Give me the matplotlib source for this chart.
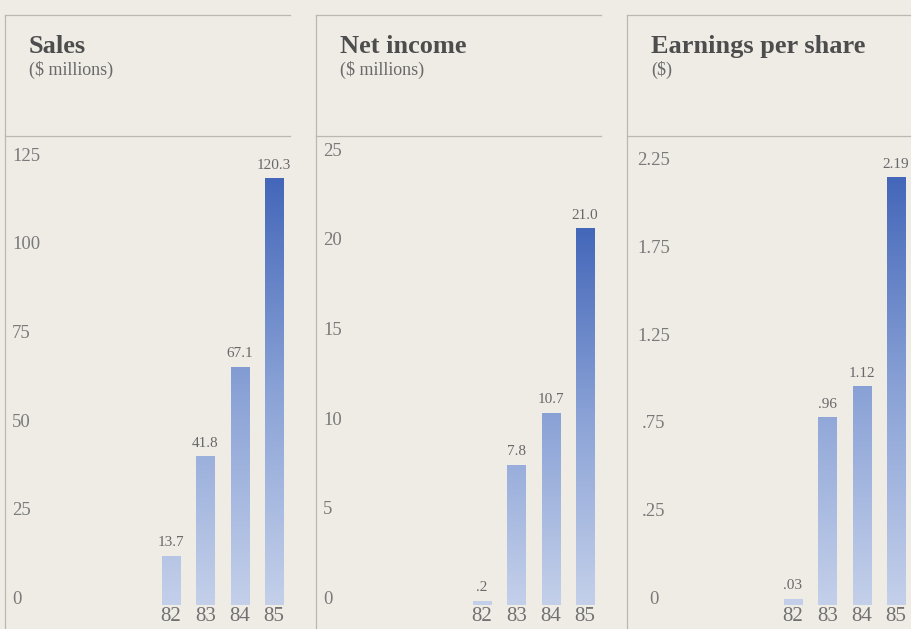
import numpy as np
import matplotlib.pyplot as plt
from matplotlib.colors import LinearSegmentedColormap, Normalize
from matplotlib.lines import Line2D
import matplotlib.transforms as mtransforms

# data
years = ['82', '83', '84', '85']

sales = [13.7, 41.8, 67.1, 120.3]
net_income = [0.2, 7.8, 10.7, 21.0]
eps = [0.03, 0.96, 1.12, 2.19]

sales_text = ['13.7', '41.8', '67.1', '120.3']
net_text = ['.2', '7.8', '10.7', '21.0']
eps_text = ['.03', '.96', '1.12', '2.19']

sales_ticks = [0, 25, 50, 75, 100, 125]
net_ticks = [0, 5, 10, 15, 20, 25]
# the printed EPS scale is evenly spaced but labelled like this
eps_tick_labels = ['0', '.25', '.75', '1.25', '1.75', '2.25']

titles = ['Sales', 'Net income', 'Earnings per share']
subtitles = ['($ millions)', '($ millions)', '($)']

BG = '#efece6'
LINE = '#bab8b3'
FONT = 'Liberation Serif'

W, H = 912, 629
fig = plt.figure(figsize=(W / 100, H / 100), dpi=100, facecolor=BG)

cmap = LinearSegmentedColormap.from_list('bars', ['#c4d0ea', '#8aa2d6', '#4467b9'])

panels = [
    (sales, sales_text, sales_ticks, [str(t) for t in sales_ticks], 132.0, 'left'),
    (net_income, net_text, net_ticks, [str(t) for t in net_ticks], 26.1, 'left'),
    (eps, eps_text, list(np.linspace(0, 2.25, 6)), eps_tick_labels, 2.40, 'center'),
]

for p, (vals, vtext, tpos, tlab, ytop, tick_ha) in enumerate(panels):
    L = 5 + 311 * p

    # header box lines + panel divider
    fig.add_artist(Line2D([L / W, L / W], [1 - 15 / H, 0], color=LINE, lw=0.9))
    right = min(L + 285, W)
    fig.add_artist(Line2D([L / W, right / W], [1 - 15 / H, 1 - 15 / H], color=LINE, lw=0.9))
    fig.add_artist(Line2D([L / W, right / W], [1 - 136 / H, 1 - 136 / H], color=LINE, lw=0.9))

    fig.text((L + 24) / W, 1 - 53 / H, titles[p], fontsize=19, fontweight='bold',
             family=FONT, color='#4d4d4d', va='baseline')
    fig.text((L + 24) / W, 1 - 75 / H, subtitles[p], fontsize=13, family=FONT,
             color='#6a6a6a', va='baseline')

    ax = fig.add_axes([L / W, 0, 300 / W, 492 / H])
    ax.set_facecolor('none')
    ax.axis('off')

    x = np.arange(len(years))
    bars = ax.bar(x, vals, width=0.53, color='none', edgecolor='none')
    norm = Normalize(0, max(vals))
    for b, v in zip(bars, vals):
        x0 = b.get_x()
        grad = np.linspace(0, v, 200).reshape(-1, 1)
        ax.imshow(grad, extent=[x0, x0 + b.get_width(), 0, v], origin='lower',
                  cmap=cmap, norm=norm, aspect='auto', interpolation='bilinear', zorder=2)

    ppu = 468 / ytop
    ax.set_ylim(-24 / ppu, ytop)
    ax.set_xlim(-166 / 34.3, (300 - 166) / 34.3)

    up = mtransforms.offset_copy(ax.transData, fig=fig, x=0, y=5, units='points')
    for xi, v, t in zip(x, vals, vtext):
        ax.text(xi, v, t, transform=up, ha='center', va='bottom', fontsize=11,
                family=FONT, color='#686868')

    down = mtransforms.offset_copy(ax.transData, fig=fig, x=0, y=-1.5, units='points')
    for xi, yl in zip(x, years):
        ax.text(xi, 0, yl, transform=down, ha='center', va='top', fontsize=15,
                family=FONT, color='#707070')

    tick_tr = mtransforms.offset_copy(ax.get_yaxis_transform(), fig=fig, x=0, y=4,
                                      units='points')
    tx = 7 / 300 if tick_ha == 'left' else 27 / 300
    for tp, tl in zip(tpos, tlab):
        ax.text(tx, tp, tl, transform=tick_tr, ha=tick_ha, va='center', fontsize=13.5,
                family=FONT, color='#7a7a7a')

fig.savefig('out.png', dpi=100, facecolor=BG)
